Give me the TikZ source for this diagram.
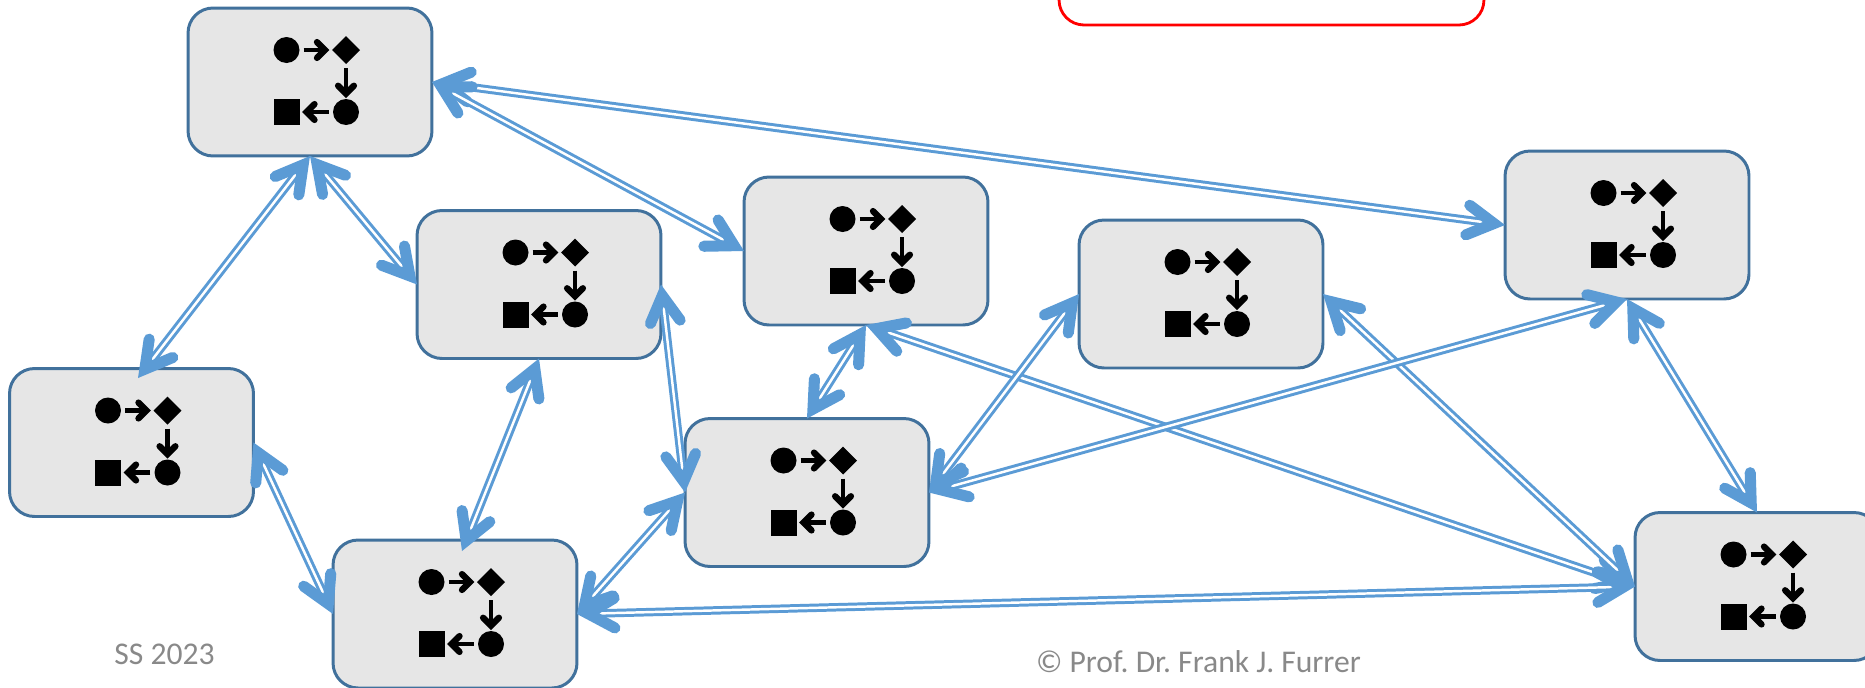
\documentclass[tikz,border=0pt]{standalone}
\usepackage{fontspec}
\setmainfont{Carlito}
\usetikzlibrary{arrows.meta,shapes.geometric}

\definecolor{linkblue}{HTML}{5B9BD5}
\definecolor{boxedge}{HTML}{41719C}
\definecolor{boxfill}{HTML}{E6E6E6}
\definecolor{notegray}{HTML}{898989}

\tikzset{
  comp/.style={draw=boxedge, fill=boxfill, line width=1.7pt, rounded corners=0.5cm, minimum width=4.88cm, minimum height=2.96cm, inner sep=0pt, outer sep=0pt},
  redbox/.style={draw=red, line width=1.6pt, rounded corners=0.5cm, minimum width=8.5cm, minimum height=2cm, inner sep=0pt},
  barbhead/.tip={Straight Barb[length=15pt, width=17pt, line width=6.3pt, line cap=round, line join=miter]},
  link/.style={draw=linkblue, line width=1.7pt, double=white, double distance=1.4pt, {barbhead}-{barbhead}},
  dot/.style={circle, fill=black, minimum size=0.52cm, inner sep=0pt, outer sep=0pt},
  sq/.style={rectangle, fill=black, minimum size=0.52cm, inner sep=0pt, outer sep=0pt},
  dia/.style={diamond, fill=black, minimum size=0.56cm, inner sep=0pt, outer sep=0pt},
  step arrow/.style={line width=2.8pt, -{Straight Barb[length=4.5pt, width=9pt, line width=3.6pt, line cap=round, line join=miter]}},
  note/.style={text=notegray, font=\fontsize{18}{20}\selectfont, inner sep=0pt},
  flowicon/.pic={
    \node[dot] (-a) at (-23.5,-32) {};
    \node[dia] (-b) at (36,-32) {};
    \node[dot] (-c) at (36,30) {};
    \node[sq] (-d) at (-23.5,30) {};
    \draw[step arrow, shorten <=2.3pt, shorten >=1.5pt] (-a) -- (-b);
    \draw[step arrow, shorten <=2.3pt, shorten >=0.5pt] (-b) -- (-c);
    \draw[step arrow, shorten <=2.3pt, shorten >=1.5pt] (-c) -- (-d);
  }
}

\begin{document}
\frenchspacing
\begin{tikzpicture}[x=0.02cm, y=-0.02cm]
  \useasboundingbox (0,0) rectangle (1865,687);

  % Boxes
  \node[comp] (A) at (310,82) {};
  \node[comp] (B) at (539,284.5) {};
  \node[comp] (C) at (866,251) {};
  \node[comp] (D) at (1201,294) {};
  \node[comp] (E) at (1627,225) {};
  \node[comp] (F) at (131.5,442.5) {};
  \node[comp] (G) at (807,492.5) {};
  \node[comp] (H) at (455,614) {};
  \node[comp] (I) at (1757,586.5) {};
  \node[redbox] (R) at (1271.5,-25) {};

  % Icons
  \pic (a) at (A) {flowicon};
  \pic (b) at (B) {flowicon};
  \pic (c) at (C) {flowicon};
  \pic (d) at (D) {flowicon};
  \pic (e) at (E) {flowicon};
  \pic (f) at (F) {flowicon};
  \pic (g) at (G) {flowicon};
  \pic (h) at (H) {flowicon};
  \pic (i) at (I) {flowicon};

  % Links
  \draw[link] (A.east) -- (E.west);
  \draw[link] (A.east) -- (C.west);
  \draw[link] (A.south) -- ([shift={(6.5,9.5)}]F.north);
  \draw[link] (A.south) -- (B.west);
  \draw[link] (B.east) -- (G.west);
  \draw[link] (B.south) -- ([shift={(7,11)}]H.north);
  \draw[link] (C.south) -- (G.north);
  \draw[link] (C.south) -- (I.west);
  \draw[link] (D.west) -- (G.east);
  \draw[link] (D.east) -- (I.west);
  \draw[link] (E.south) -- (G.east);
  \draw[link] (E.south) -- (I.north);
  \draw[link] (F.east) -- (H.west);
  \draw[link] (G.west) -- (H.east);
  \draw[link] (H.east) -- (I.west);

  % Notes
  \node[note] (term) at (164.5,654) {SS 2023};
  \node[note] (copy) at (1198.5,661.5) {© Prof. Dr. Frank J. Furrer};
\end{tikzpicture}
\end{document}
